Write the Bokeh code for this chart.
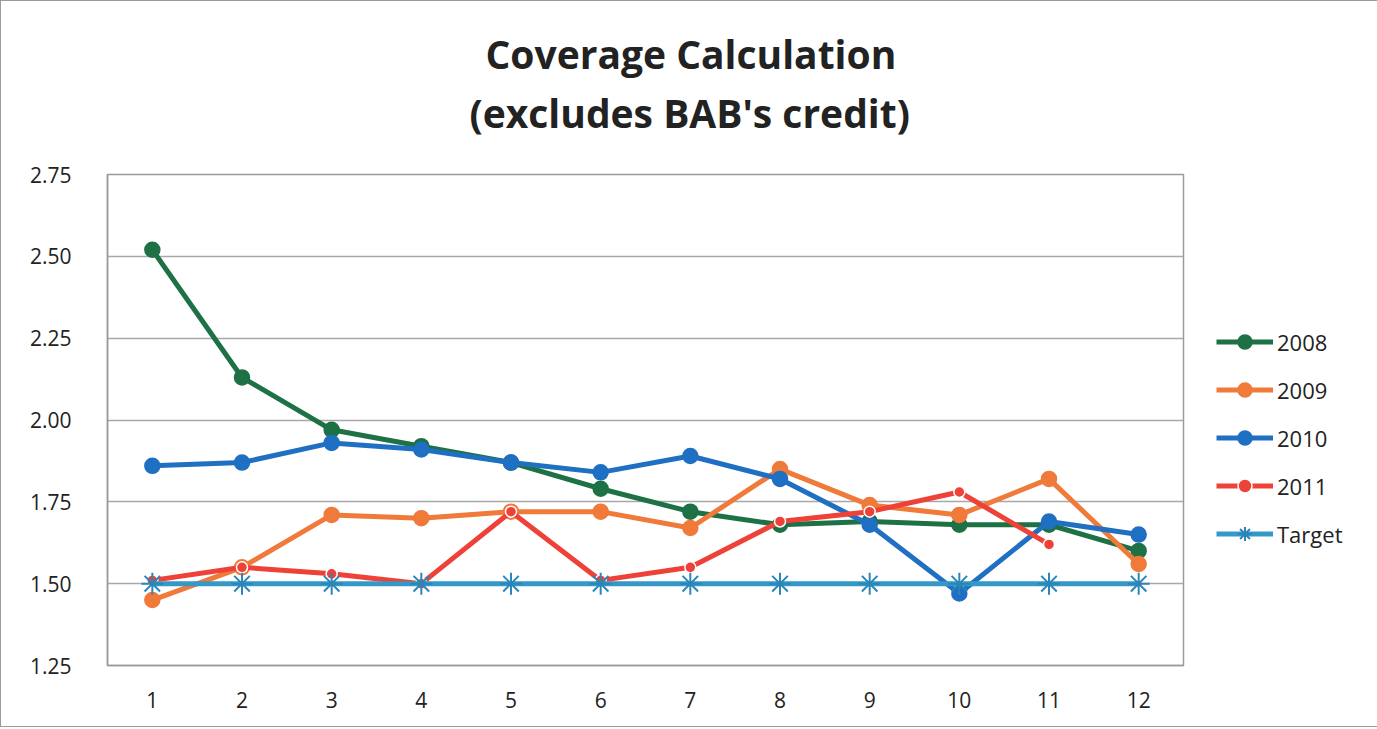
import numpy as np
from bokeh.plotting import figure
from bokeh.models import (Legend, LegendItem, Title, FixedTicker, Range1d,
                          CustomJSTickFormatter)
from bokeh.embed import file_html
from bokeh.resources import INLINE

months = [1, 2, 3, 4, 5, 6, 7, 8, 9, 10, 11, 12]
s2008 = [2.52, 2.13, 1.97, 1.92, 1.87, 1.79, 1.72, 1.68, 1.69, 1.68, 1.68, 1.60]
s2009 = [1.45, 1.55, 1.71, 1.70, 1.72, 1.72, 1.67, 1.85, 1.74, 1.71, 1.82, 1.56]
s2010 = [1.86, 1.87, 1.93, 1.91, 1.87, 1.84, 1.89, 1.82, 1.68, 1.47, 1.69, 1.65]
s2011 = [1.51, 1.55, 1.53, 1.50, 1.72, 1.51, 1.55, 1.69, 1.72, 1.78, 1.62, np.nan]
target = [1.50] * 12
y_ticks = [1.25, 1.50, 1.75, 2.00, 2.25, 2.50, 2.75]
title_lines = ["Coverage Calculation", "(excludes BAB's credit)"]

FONT = "Open Sans"
L, T, R, B = 106, 173, 188, 61
FW, FH = 1076, 491

p = figure(frame_width=FW, frame_height=FH, output_backend="svg",
           toolbar_location=None,
           x_range=Range1d(0.5, 12.5), y_range=Range1d(1.25, 2.75),
           min_border_left=L, min_border_right=R, min_border_top=T,
           min_border_bottom=B, title=None)
p.styles = {"border": "1px solid #9a9a9a"}
p.outline_line_color = "#9a9a9a"
p.outline_line_width = 1.5

p.xaxis.ticker = FixedTicker(ticks=months)
p.yaxis.ticker = FixedTicker(ticks=y_ticks)
p.yaxis.formatter = CustomJSTickFormatter(code="return tick.toFixed(2);")
for ax in (p.xaxis[0], p.yaxis[0]):
    ax.axis_line_color = "#9a9a9a"
    ax.axis_line_width = 1.5
    ax.major_tick_line_color = None
    ax.minor_tick_line_color = None
    ax.major_label_text_font = FONT
    ax.major_label_text_font_size = "21px"
    ax.major_label_text_color = "#222222"
p.xaxis.major_label_standoff = 20
p.yaxis.major_label_standoff = 30
p.xgrid.grid_line_color = None
p.ygrid.grid_line_color = "#a8a8a8"
p.ygrid.grid_line_width = 1.5

series = [
    ("2008", s2008, "#1e7145", 15, None),
    ("2009", s2009, "#f07a3a", 15, None),
    ("2010", s2010, "#1f6fc2", 15, None),
    ("2011", s2011, "#ee4238", 11, "white"),
]
items = []
for name, ys, color, size, outline in series:
    ln = p.line(months, ys, line_color=color, line_width=5)
    sc = p.scatter(months, ys, marker="circle", size=size, fill_color=color,
                   line_color=outline if outline else color, line_width=1.5)
    items.append(LegendItem(label=name, renderers=[ln, sc]))

tl = p.line(months, target, line_color="#3499c6", line_width=5)
ts = p.scatter(months, target, marker="asterisk", size=22,
               line_color="#2a86b8", line_width=2)
items.append(LegendItem(label="Target", renderers=[tl, ts]))

legend = Legend(items=items, location=(33, 114), orientation="vertical",
                label_text_font=FONT, label_text_font_size="22px",
                label_text_color="#222222", glyph_width=57, glyph_height=35,
                label_height=20, spacing=13, padding=0, margin=0,
                label_standoff=4, border_line_color=None,
                background_fill_alpha=0)
p.add_layout(legend, "right")

# second line nearest the plot, first line above it
p.add_layout(Title(text=title_lines[1], align="left", offset=362,
                   text_font=FONT, text_font_style="bold",
                   text_font_size="39px", text_color="#222222",
                   standoff=72), "above")
p.add_layout(Title(text=title_lines[0], align="left", offset=378,
                   text_font=FONT, text_font_style="bold",
                   text_font_size="39px", text_color="#222222",
                   standoff=-64), "above")

open("out.html", "w").write(file_html(p, INLINE))
